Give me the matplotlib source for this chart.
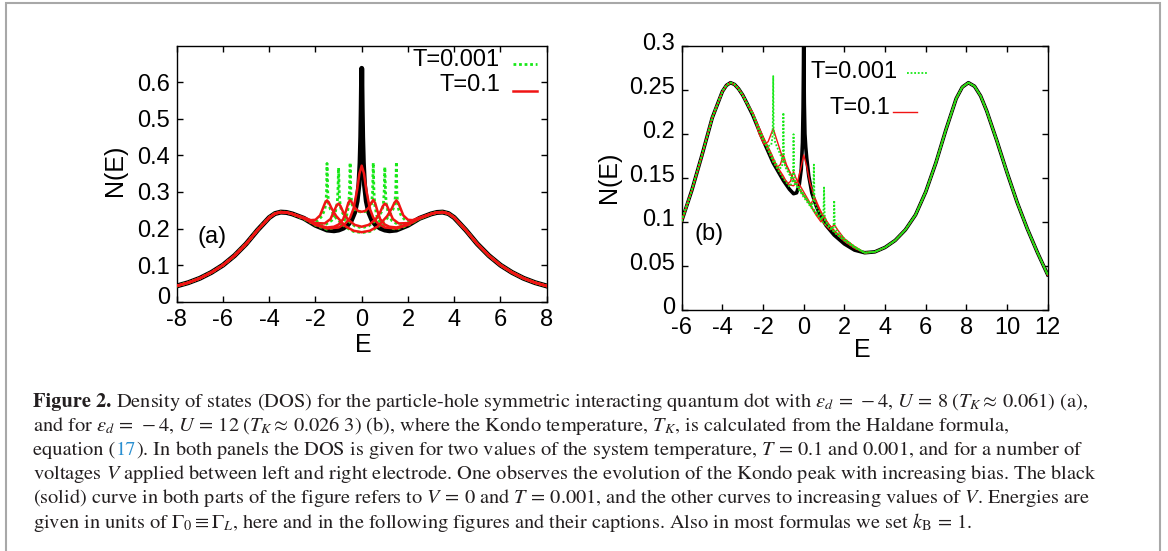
import matplotlib.pyplot as plt
from matplotlib.patches import Rectangle
from matplotlib.ticker import FormatStrFormatter
from matplotlib.transforms import ScaledTranslation

plt.rcParams["font.family"] = ["Liberation Sans", "DejaVu Sans"]
plt.rcParams["mathtext.fontset"] = "stix"
plt.rcParams["axes.unicode_minus"] = False

W, H = 1168, 551

# ---------------- panel (a): eps_d = -4, U = 8 ----------------
a_wing_E_left = [-8.0, -7.5, -7.0, -6.5, -6.0, -5.5, -5.0, -4.5, -4.0, -3.75, -3.5, -3.25, -3.0]
a_wing_N_left = [0.043, 0.052, 0.064, 0.080, 0.100, 0.126, 0.158, 0.196, 0.230, 0.241, 0.245, 0.244, 0.240]
a_wing_E_right = [3.0, 3.25, 3.5, 3.75, 4.0, 4.5, 5.0, 5.5, 6.0, 6.5, 7.0, 7.5, 8.0]
a_wing_N_right = [0.240, 0.244, 0.245, 0.241, 0.230, 0.196, 0.158, 0.126, 0.100, 0.080, 0.064, 0.052, 0.043]

# V = 0, T = 0.001 (black)
a_black_E = [-2.5, -2.0, -1.5, -1.2, -1.0, -0.8, -0.6, -0.45, -0.3, -0.2, -0.12, -0.07, -0.04, -0.02, 0.0,
             0.02, 0.04, 0.07, 0.12, 0.2, 0.3, 0.45, 0.6, 0.8, 1.0, 1.2, 1.5, 2.0, 2.5]
a_black_N = [0.228, 0.209, 0.196, 0.194, 0.196, 0.201, 0.210, 0.222, 0.245, 0.275, 0.320, 0.380, 0.450, 0.530, 0.638,
             0.530, 0.450, 0.380, 0.320, 0.275, 0.245, 0.222, 0.210, 0.201, 0.196, 0.194, 0.196, 0.209, 0.228]

# T = 0.1 (red), V = 0, 1, 2, 3
a_red_E = [
    [-2.5, -2.0, -1.5, -1.0, -0.7, -0.5, -0.35, -0.2, -0.1, 0.0, 0.1, 0.2, 0.35, 0.5, 0.7, 1.0, 1.5, 2.0, 2.5],
    [-2.5, -2.0, -1.5, -1.2, -1.0, -0.8, -0.68, -0.58, -0.5, -0.42, -0.3, -0.15, 0.0,
     0.15, 0.3, 0.42, 0.5, 0.58, 0.68, 0.8, 1.0, 1.2, 1.5, 2.0, 2.5],
    [-2.5, -2.0, -1.6, -1.35, -1.18, -1.08, -1.0, -0.92, -0.8, -0.6, -0.3, 0.0,
     0.3, 0.6, 0.8, 0.92, 1.0, 1.08, 1.18, 1.35, 1.6, 2.0, 2.5],
    [-2.5, -2.2, -2.0, -1.8, -1.68, -1.58, -1.5, -1.42, -1.3, -1.1, -0.7, -0.35, 0.0,
     0.35, 0.7, 1.1, 1.3, 1.42, 1.5, 1.58, 1.68, 1.8, 2.0, 2.2, 2.5],
]
a_red_N = [
    [0.228, 0.210, 0.200, 0.203, 0.214, 0.230, 0.255, 0.305, 0.350, 0.372, 0.350, 0.305, 0.255, 0.230, 0.214, 0.203,
     0.200, 0.210, 0.228],
    [0.228, 0.211, 0.203, 0.205, 0.211, 0.226, 0.248, 0.270, 0.278, 0.271, 0.257, 0.248, 0.246,
     0.248, 0.257, 0.271, 0.278, 0.270, 0.248, 0.226, 0.211, 0.205, 0.203, 0.211, 0.228],
    [0.228, 0.215, 0.214, 0.226, 0.250, 0.264, 0.268, 0.262, 0.245, 0.225, 0.210, 0.205,
     0.210, 0.225, 0.245, 0.262, 0.268, 0.264, 0.250, 0.226, 0.214, 0.215, 0.228],
    [0.230, 0.223, 0.224, 0.236, 0.255, 0.271, 0.277, 0.271, 0.255, 0.234, 0.206, 0.194, 0.190,
     0.194, 0.206, 0.234, 0.255, 0.271, 0.277, 0.271, 0.255, 0.236, 0.224, 0.223, 0.230],
]

# T = 0.001 (green), V = 1, 2, 3
a_green_E = [
    [-2.5, -2.0, -1.5, -1.0, -0.8, -0.65, -0.57, -0.53, -0.5, -0.47, -0.43, -0.33, -0.18, 0.0,
     0.18, 0.33, 0.43, 0.47, 0.5, 0.53, 0.57, 0.65, 0.8, 1.0, 1.5, 2.0, 2.5],
    [-2.5, -2.0, -1.6, -1.3, -1.15, -1.06, -1.03, -1.0, -0.97, -0.93, -0.85, -0.6, -0.3, 0.0,
     0.3, 0.6, 0.85, 0.93, 0.97, 1.0, 1.03, 1.06, 1.15, 1.3, 1.6, 2.0, 2.5],
    [-2.5, -2.2, -1.9, -1.72, -1.6, -1.55, -1.52, -1.5, -1.47, -1.43, -1.35, -1.1, -0.7, -0.35, 0.0,
     0.35, 0.7, 1.1, 1.35, 1.43, 1.47, 1.5, 1.52, 1.55, 1.6, 1.72, 1.9, 2.2, 2.5],
]
a_green_N = [
    [0.227, 0.209, 0.198, 0.205, 0.216, 0.236, 0.262, 0.300, 0.380, 0.300, 0.268, 0.253, 0.247, 0.245,
     0.247, 0.253, 0.268, 0.300, 0.380, 0.300, 0.262, 0.236, 0.216, 0.205, 0.198, 0.209, 0.227],
    [0.227, 0.212, 0.210, 0.222, 0.243, 0.268, 0.300, 0.366, 0.295, 0.262, 0.245, 0.222, 0.207, 0.202,
     0.207, 0.222, 0.245, 0.262, 0.295, 0.368, 0.300, 0.268, 0.243, 0.222, 0.210, 0.212, 0.227],
    [0.228, 0.220, 0.222, 0.234, 0.252, 0.270, 0.300, 0.378, 0.300, 0.268, 0.252, 0.228, 0.204, 0.192, 0.189,
     0.192, 0.204, 0.228, 0.252, 0.268, 0.300, 0.382, 0.300, 0.270, 0.252, 0.234, 0.222, 0.220, 0.228],
]

# ---------------- panel (b): eps_d = -4, U = 12 ----------------
b_wing_E_left = [-6.0, -5.5, -5.0, -4.5, -4.0, -3.8, -3.6, -3.4, -3.2, -3.0, -2.8]
b_wing_N_left = [0.101, 0.136, 0.176, 0.218, 0.248, 0.255, 0.258, 0.256, 0.251, 0.244, 0.235]
b_wing_E_right = [3.0, 3.5, 4.0, 4.5, 5.0, 5.5, 6.0, 6.5, 7.0, 7.5, 7.8, 8.1, 8.4, 8.7, 9.0, 9.5,
                  10.0, 10.5, 11.0, 11.5, 12.0]
b_wing_N_right = [0.065, 0.066, 0.071, 0.079, 0.091, 0.108, 0.134, 0.167, 0.205, 0.240, 0.253, 0.258, 0.254,
                  0.243, 0.226, 0.192, 0.156, 0.122, 0.092, 0.065, 0.040]

b_black_E = [-2.5, -2.0, -1.5, -1.0, -0.7, -0.5, -0.35, -0.22, -0.12, -0.06, -0.03, -0.01, 0.0,
             0.01, 0.03, 0.06, 0.1, 0.15, 0.25, 0.4, 0.6, 0.8, 1.1, 1.5, 2.0, 2.5]
b_black_N = [0.221, 0.193, 0.167, 0.147, 0.137, 0.132, 0.133, 0.142, 0.160, 0.190, 0.230, 0.280, 0.320,
             0.285, 0.235, 0.200, 0.185, 0.172, 0.152, 0.133, 0.119, 0.108, 0.096, 0.085, 0.075, 0.068]

b_red_E = [
    [-2.5, -2.0, -1.5, -1.0, -0.7, -0.5, -0.3, -0.15, 0.0, 0.15, 0.3, 0.5, 0.8, 1.1, 1.5, 2.0, 2.5],
    [-2.5, -2.0, -1.5, -1.0, -0.8, -0.65, -0.5, -0.35, -0.1, 0.15, 0.35, 0.5, 0.65, 0.9, 1.2, 1.6, 2.0, 2.5],
    [-2.5, -2.0, -1.6, -1.3, -1.15, -1.0, -0.85, -0.5, -0.1, 0.3, 0.6, 0.85, 1.0, 1.15, 1.5, 2.0, 2.5],
    [-2.5, -2.2, -1.95, -1.75, -1.5, -1.35, -1.0, -0.5, 0.0, 0.5, 1.0, 1.3, 1.5, 1.7, 2.0, 2.5],
]
b_red_N = [
    [0.222, 0.195, 0.169, 0.150, 0.142, 0.141, 0.146, 0.160, 0.176, 0.163, 0.145, 0.130, 0.114, 0.101, 0.089,
     0.078, 0.070],
    [0.222, 0.195, 0.170, 0.152, 0.143, 0.146, 0.157, 0.148, 0.138, 0.128, 0.120, 0.127, 0.120, 0.108, 0.098,
     0.088, 0.080, 0.071],
    [0.223, 0.197, 0.178, 0.162, 0.165, 0.176, 0.165, 0.148, 0.133, 0.120, 0.108, 0.100, 0.107, 0.100, 0.089,
     0.080, 0.072],
    [0.224, 0.200, 0.188, 0.191, 0.206, 0.195, 0.170, 0.148, 0.130, 0.113, 0.098, 0.091, 0.097, 0.090, 0.081,
     0.072],
]

b_green_E = [
    [-2.5, -2.0, -1.5, -1.0, -0.7, -0.56, -0.52, -0.5, -0.47, -0.4, -0.1, 0.2, 0.4, 0.47, 0.5, 0.53, 0.6, 0.9,
     1.2, 1.6, 2.0, 2.5],
    [-2.5, -2.0, -1.5, -1.2, -1.06, -1.02, -1.0, -0.97, -0.9, -0.5, 0.0, 0.5, 0.9, 0.97, 1.0, 1.03, 1.1, 1.5,
     2.0, 2.5],
    [-2.5, -2.1, -1.8, -1.6, -1.54, -1.52, -1.5, -1.48, -1.4, -1.0, -0.5, 0.0, 0.5, 1.0, 1.4, 1.47, 1.5, 1.53,
     1.6, 2.0, 2.5],
]
b_green_N = [
    [0.222, 0.194, 0.168, 0.149, 0.140, 0.145, 0.160, 0.1995, 0.155, 0.145, 0.135, 0.124, 0.118, 0.125, 0.165,
     0.125, 0.117, 0.106, 0.097, 0.087, 0.079, 0.071],
    [0.222, 0.195, 0.172, 0.160, 0.163, 0.180, 0.224, 0.175, 0.162, 0.145, 0.130, 0.114, 0.103, 0.108, 0.139,
     0.108, 0.100, 0.088, 0.079, 0.071],
    [0.222, 0.197, 0.186, 0.187, 0.195, 0.210, 0.2655, 0.205, 0.190, 0.168, 0.147, 0.128, 0.112, 0.098, 0.091,
     0.096, 0.1244, 0.096, 0.091, 0.081, 0.072],
]

a_xticks = [-8, -6, -4, -2, 0, 2, 4, 6, 8]
a_yticks = [0, 0.1, 0.2, 0.3, 0.4, 0.5, 0.6]
b_xticks = [-6, -4, -2, 0, 2, 4, 6, 8, 10, 12]
b_yticks = [0, 0.05, 0.1, 0.15, 0.2, 0.25, 0.3]

caption = [
    [("Figure 2.", {"weight": "bold"}),
     (r" Density of states (DOS) for the particle-hole symmetric interacting quantum dot with "
      r"$\varepsilon_d\,=\,-4$, $U\,=\,8\;(T_K\approx\,0.061)$ (a),", {})],
    [(r"and for $\varepsilon_d\,=\,-4$, $U\,=\,12\;(T_K\approx\,0.026\ 3)$ (b), where the Kondo temperature, "
      r"$T_K$, is calculated from the Haldane formula,", {})],
    [("equation (", {}), ("17", {"color": "#2a8fd0"}),
     (r"). In both panels the DOS is given for two values of the system temperature, $T\,=\,0.1$ and "
      r"$0.001$, and for a number of", {})],
    [(r"voltages $V$ applied between left and right electrode. One observes the evolution of the Kondo peak "
      r"with increasing bias. The black", {})],
    [(r"(solid) curve in both parts of the figure refers to $V\,=\,0$ and $T\,=\,0.001$, and the other curves "
      r"to increasing values of $V$. Energies are", {})],
    [(r"given in units of $\Gamma_0\equiv\Gamma_L$, here and in the following figures and their captions. "
      r"Also in most formulas we set $k_\mathrm{B}\,=\,1$.", {})],
]

RED = "#f01414"
GREEN = "#18e818"


def fx(px):
    return px / W


def fy(py):
    return 1 - py / H


def joined(wl_E, wl_N, cE, cN, wr_E, wr_N):
    return wl_E + cE + wr_E, wl_N + cN + wr_N


def style_axes(ax, xlim, ylim, xticks, yticks):
    ax.set_xlim(*xlim)
    ax.set_ylim(*ylim)
    ax.set_xticks(xticks)
    ax.set_yticks(yticks)
    ax.yaxis.set_major_formatter(FormatStrFormatter("%g"))
    ax.tick_params(direction="in", top=True, right=True, length=4, width=1,
                   labelsize=17, pad=5, colors="black")
    for sp in ax.spines.values():
        sp.set_linewidth(1.0)


def lift(label, px):
    label.set_transform(label.get_transform() + ScaledTranslation(0, px / 100, fig.dpi_scale_trans))


fig = plt.figure(figsize=(W / 100, H / 100), dpi=100)
fig.patch.set_facecolor("white")

# ---- panel (a) ----
axa = fig.add_axes([fx(176.7), fy(301.7), (546.7 - 176.7) / W, (301.7 - 45.7) / H])
x, y = joined(a_wing_E_left, a_wing_N_left, a_black_E, a_black_N, a_wing_E_right, a_wing_N_right)
axa.plot(x, y, color="black", lw=3.6, solid_joinstyle="round", zorder=2)
for cE, cN in zip(a_green_E, a_green_N):
    x, y = joined(a_wing_E_left, a_wing_N_left, cE, cN, a_wing_E_right, a_wing_N_right)
    axa.plot(x, y, color=GREEN, lw=2, ls=(0, (1, 1)), zorder=3)
for cE, cN in zip(a_red_E, a_red_N):
    x, y = joined(a_wing_E_left, a_wing_N_left, cE, cN, a_wing_E_right, a_wing_N_right)
    axa.plot(x, y, color=RED, lw=1.8, zorder=4)
style_axes(axa, (-8, 8), (0, 0.7), a_xticks, a_yticks)
lift(axa.get_yticklabels()[0], 6)
axa.text(-6.47, 0.177, "(a)", fontsize=17, ha="center", va="center")
axa.text(0.874, 0.944, "T=0.001", transform=axa.transAxes, fontsize=17, ha="right", va="center")
axa.text(0.874, 0.846, "T=0.1", transform=axa.transAxes, fontsize=17, ha="right", va="center")
axa.plot([0.909, 0.974], [0.9285, 0.9285], transform=axa.transAxes, color=GREEN, lw=2, ls=(0, (1, 1)))
axa.plot([0.909, 0.974], [0.823, 0.823], transform=axa.transAxes, color=RED, lw=1.8)
fig.text(fx(115), fy(170), "N(E)", fontsize=18, rotation=90, ha="center", va="center")
fig.text(fx(363), fy(345), "E", fontsize=18, ha="center", va="center")

# ---- panel (b) ----
axb = fig.add_axes([fx(681.7), fy(310), 366 / W, (310 - 45.7) / H])
x, y = joined(b_wing_E_left, b_wing_N_left, b_black_E, b_black_N, b_wing_E_right, b_wing_N_right)
axb.plot(x, y, color="black", lw=2.6, solid_joinstyle="round", zorder=2)
for cE, cN in zip(b_red_E, b_red_N):
    x, y = joined(b_wing_E_left, b_wing_N_left, cE, cN, b_wing_E_right, b_wing_N_right)
    axb.plot(x, y, color=RED, lw=1.0, zorder=3)
for cE, cN in zip(b_green_E, b_green_N):
    x, y = joined(b_wing_E_left, b_wing_N_left, cE, cN, b_wing_E_right, b_wing_N_right)
    axb.plot(x, y, color=GREEN, lw=1.3, ls=(0, (1, 1)), zorder=4)
style_axes(axb, (-6, 12), (0, 0.3), b_xticks, b_yticks)
for lab in axb.get_yticklabels():
    lift(lab, 4)
axb.text(-4.66, 0.0863, "(b)", fontsize=17, ha="center", va="center")
axb.text(0.591, 0.9016, "T=0.001", transform=axb.transAxes, fontsize=17, ha="right", va="center")
axb.text(0.569, 0.763, "T=0.1", transform=axb.transAxes, fontsize=17, ha="right", va="center")
axb.plot([0.615, 0.674], [0.898, 0.898], transform=axb.transAxes, color=GREEN, lw=1.3, ls=(0, (1, 1)))
axb.plot([0.577, 0.642], [0.749, 0.749], transform=axb.transAxes, color=RED, lw=1.0)
fig.text(fx(609), fy(177), "N(E)", fontsize=18, rotation=90, ha="center", va="center")
fig.text(fx(862), fy(350), "E", fontsize=18, ha="center", va="center")

# ---- caption ----
renderer = fig.canvas.get_renderer()
for i, runs in enumerate(caption):
    xpos = fx(33)
    ypos = fy(402 + i * 24.1)
    for s, kw in runs:
        props = {"color": "#231f20"}
        props.update(kw)
        t = fig.text(xpos, ypos, s, fontsize=14.7, family="STIXGeneral",
                     ha="left", va="center", **props)
        bb = t.get_window_extent(renderer)
        xpos = bb.x1 / W

# outer frame
fig.add_artist(Rectangle((fx(6), -0.1), (1160 - 6) / W, fy(3) + 0.1, transform=fig.transFigure,
                         fill=False, edgecolor="#a8a8a8", lw=1.5))

fig.savefig("out.png", dpi=100, facecolor="white")
